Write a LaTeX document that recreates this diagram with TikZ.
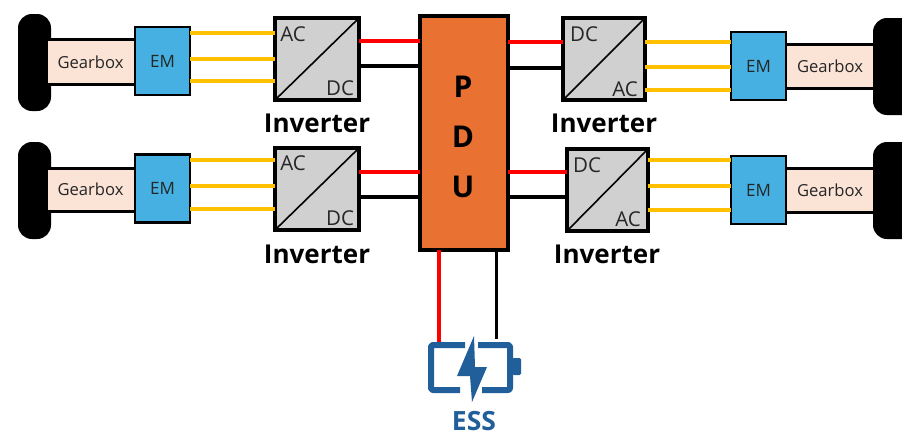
\documentclass[tikz,border=0pt]{standalone}
\usepackage{fontspec}
\setmainfont{Open Sans}
\definecolor{gbfill}{HTML}{FBE3D6}
\definecolor{emfill}{HTML}{45B0E1}
\definecolor{pdufill}{HTML}{E97132}
\definecolor{invfill}{HTML}{D0D0D0}
\definecolor{acline}{HTML}{FFC000}
\definecolor{essblue}{HTML}{215F9A}
\definecolor{txt}{HTML}{262626}
\tikzset{
 base/.style={inner sep=0pt,outer sep=0pt},
 tire/.style={base,fill=black,rounded corners=14pt},
 gearbox/.style={base,fill=gbfill,text=txt,font=\fontsize{16.6}{17}\selectfont},
 gbedge/.style={line width=3pt,draw=black},
 emotor/.style={base,draw=black,line width=2.5pt,fill=emfill,text=txt,font=\fontsize{17}{18}\selectfont},
 inverter/.style={base,draw=black,line width=4.5pt,fill=invfill},
 pdu/.style={base,draw=black,line width=4.5pt,fill=pdufill},
 invlabel/.style={base,text=black,font=\bfseries\fontsize{26}{28}\selectfont},
 invtext/.style={base,text=txt,font=\fontsize{20.5}{22}\selectfont},
 pduletter/.style={base,text=black,font=\bfseries\fontsize{30}{32}\selectfont},
 acwire/.style={draw=acline,line width=3.4pt},
 redwire/.style={draw=red,line width=4.4pt},
 blkwire/.style={draw=black,line width=4.4pt},
 diag/.style={draw=black,line width=1.6pt},
 batline/.style={draw=essblue,line width=6pt,line cap=butt,line join=round,rounded corners=2pt},
}
\begin{document}
\begin{tikzpicture}[x=1pt,y=-1pt]
\useasboundingbox (0,0) rectangle (902,434);
\clip (0,0) rectangle (902,434);
\fill[white] (0,0) rectangle (902,434);
% PDU
\node[pdu,minimum width=88pt,minimum height=234pt] (P) at (464,133) {};
\node[pduletter] (p1) at (463,87) {P};
\node[pduletter] (p2) at (463,137) {D};
\node[pduletter] (p3) at (463,187) {U};
% inverters
\node[inverter,minimum width=84pt,minimum height=82pt] (I1) at (317,59) {};
\node[inverter,minimum width=84pt,minimum height=82pt] (I2) at (317,189) {};
\node[inverter,minimum width=82pt,minimum height=82pt] (I3) at (604,59) {};
\node[inverter,minimum width=81pt,minimum height=82pt] (I4) at (607.5,190) {};
\foreach \i in {I1,I2,I3,I4}{\draw[diag] (\i.south west) -- (\i.north east);}
\node[invtext] (t1a) at (293,34) {AC};
\node[invtext] (t1b) at (340,88) {DC};
\node[invtext] (t2a) at (293,163) {AC};
\node[invtext] (t2b) at (340,218) {DC};
\node[invtext] (t3a) at (584,34) {DC};
\node[invtext] (t3b) at (625,89) {AC};
\node[invtext] (t4a) at (587,165) {DC};
\node[invtext] (t4b) at (628,219) {AC};
\node[invlabel] (l1) at (317,123) {Inverter};
\node[invlabel] (l2) at (317,254) {Inverter};
\node[invlabel] (l3) at (604,123) {Inverter};
\node[invlabel] (l4) at (607,254) {Inverter};
% tires
\node[tire,minimum width=33pt,minimum height=97pt] (W1) at (34.5,62.5) {};
\node[tire,minimum width=33pt,minimum height=97pt] (W2) at (34.5,190.5) {};
\node[tire,minimum width=44pt,minimum height=97pt] (W3) at (895,66.5) {};
\node[tire,minimum width=44pt,minimum height=97pt] (W4) at (895,190.5) {};
% gearboxes
\node[gearbox,minimum width=86pt,minimum height=45pt] (G1) at (91,62) {\hspace{-1pt}Gearbox};
\node[gearbox,minimum width=86pt,minimum height=43pt] (G2) at (91,189.5) {\hspace{-1pt}Gearbox};
\node[gearbox,minimum width=86pt,minimum height=44pt] (G3) at (830,66) {Gearbox};
\node[gearbox,minimum width=86pt,minimum height=44pt] (G4) at (830,190) {Gearbox};
\foreach \g in {G1,G2,G3,G4}{
 \draw[gbedge] (\g.north west) -- (\g.north east);
 \draw[gbedge] (\g.south west) -- (\g.south east);
}
% motors
\node[emotor,minimum width=55pt,minimum height=68pt] (E1) at (162.5,61) {EM};
\node[emotor,minimum width=55pt,minimum height=68pt] (E2) at (162.5,188.5) {EM};
\node[emotor,minimum width=55pt,minimum height=68pt] (E3) at (758.5,66) {EM};
\node[emotor,minimum width=55pt,minimum height=68pt] (E4) at (758.5,190) {EM};
% AC wires
\foreach \y in {33,59,81}{\draw[acwire] (E1.east |- 0,\y) -- (I1.west |- 0,\y);}
\foreach \y in {160,186,209}{\draw[acwire] (E2.east |- 0,\y) -- (I2.west |- 0,\y);}
\foreach \y in {42,67,90}{\draw[acwire] (I3.east |- 0,\y) -- (E3.west |- 0,\y);}
\foreach \y in {160,186,210}{\draw[acwire] (I4.east |- 0,\y) -- (E4.west |- 0,\y);}
% DC wires
\draw[redwire] (I1.east |- 0,41) -- (P.west |- 0,41);
\draw[blkwire] (I1.east |- 0,66) -- (P.west |- 0,66);
\draw[redwire] (I2.east |- 0,172) -- (P.west |- 0,172);
\draw[blkwire] (I2.east |- 0,197) -- (P.west |- 0,197);
\draw[redwire] (P.east |- 0,42) -- (I3.west |- 0,42);
\draw[blkwire] (P.east |- 0,68) -- (I3.west |- 0,68);
\draw[redwire] (P.east |- 0,172) -- (I4.west |- 0,172);
\draw[blkwire] (P.east |- 0,197) -- (I4.west |- 0,197);
% battery
\coordinate (Bred) at (439,347);
\coordinate (Bblk) at (496,339);
\draw[redwire] (P.south -| Bred) -- (Bred);
\draw[draw=black,line width=3pt] (P.south -| Bblk) -- (Bblk);
\draw[batline] (465,345) -- (431,345) -- (431,390) -- (460,390);
\draw[batline] (478,345) -- (510,345) -- (510,390) -- (482,390);
\fill[essblue,rounded corners=1.5pt] (512,358) -- (521,358) -- (521,375) -- (512,375) -- cycle;
\fill[essblue] (474,336) -- (457,376) -- (470,376) -- (472,402) -- (487,367) -- (475,367) -- cycle;
\node[base,text=essblue,font=\bfseries\fontsize{26.5}{28}\selectfont] (ess) at (474,421.5) {ESS};
\end{tikzpicture}
\end{document}
